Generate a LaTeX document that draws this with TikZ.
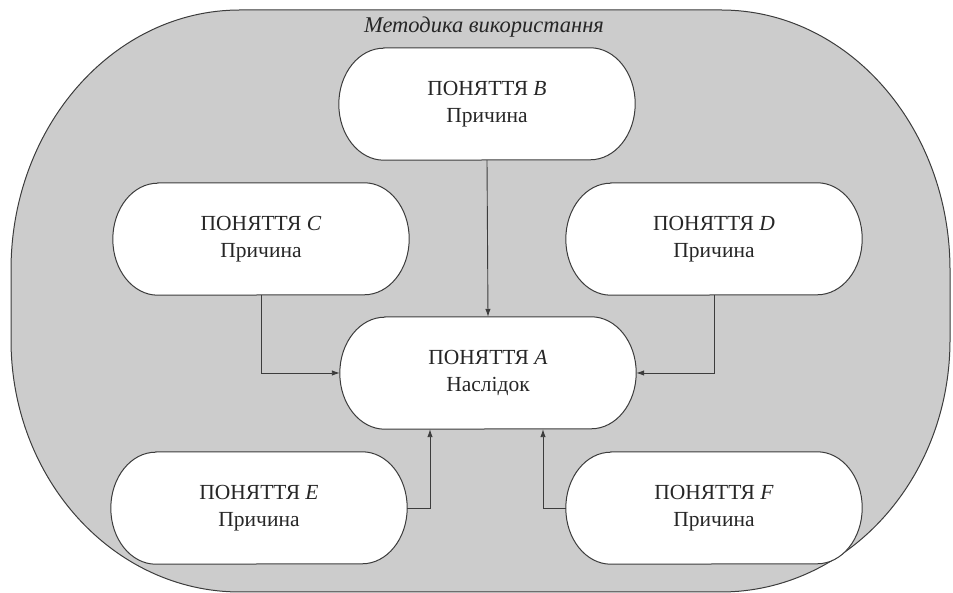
\documentclass[tikz,border=0pt]{standalone}
\usepackage{fontspec}
\setmainfont{Liberation Serif}
\usetikzlibrary{arrows.meta,backgrounds,calc}
\definecolor{bgfill}{RGB}{204,204,204}
\definecolor{edgecol}{RGB}{60,60,60}
\newcommand{\mystadium}[1]{%
  \path[outline] ([xshift=45pt]#1.north west) -- ([xshift=-45pt]#1.north east)
    arc[start angle=90,end angle=-90,x radius=45pt,y radius=56pt]
    -- ([xshift=45pt]#1.south west)
    arc[start angle=270,end angle=90,x radius=45pt,y radius=56pt] -- cycle;}
\begin{document}
\begin{tikzpicture}[x=1pt,y=1pt,
  concept/.style={minimum width=296pt, minimum height=112pt, inner sep=0pt,
    align=center, font=\fontsize{21.5}{27}\selectfont, text=black!85},
  link/.style={draw=edgecol, line width=0.9pt, -{Latex[length=8pt,width=5.5pt]}},
  outline/.style={draw=edgecol, line width=1pt, fill=white},
  outer/.style={draw=edgecol, line width=1pt, fill=bgfill}]
\useasboundingbox (0,0) rectangle (953,593);
\node[font=\itshape\fontsize{22.5}{26}\selectfont, text=black!85] (title) at (484,566) {Методика використання};
\node[concept] (B) at (487,489) {ПОНЯТТЯ \textit{B}\\Причина};
\node[concept] (C) at (261,354) {ПОНЯТТЯ \textit{C}\\Причина};
\node[concept] (D) at (714,354) {ПОНЯТТЯ \textit{D}\\Причина};
\node[concept] (A) at (488,220) {ПОНЯТТЯ \textit{A}\\Наслідок};
\node[concept] (E) at (259,85) {ПОНЯТТЯ \textit{E}\\Причина};
\node[concept] (F) at (714,85) {ПОНЯТТЯ \textit{F}\\Причина};
\begin{scope}[on background layer]
  \path[outer] (240,583) -- (721,583)
    arc[start angle=90,end angle=0,x radius=229pt,y radius=260pt] -- (950,253)
    arc[start angle=0,end angle=-90,x radius=229pt,y radius=252pt] -- (240,1)
    arc[start angle=270,end angle=180,x radius=229pt,y radius=252pt] -- (11,323)
    arc[start angle=180,end angle=90,x radius=229pt,y radius=260pt] -- cycle;
  \mystadium{A}\mystadium{B}\mystadium{C}\mystadium{D}\mystadium{E}\mystadium{F}
\end{scope}
\draw[link] (B.south) -- (A.north);
\draw[link] (C.south) |- (A.west);
\draw[link] (D.south) |- (A.east);
\draw[link] (E.east) -| ([xshift=-58pt]A.south);
\draw[link] (F.west) -| ([xshift=55pt]A.south);
\end{tikzpicture}
\end{document}
